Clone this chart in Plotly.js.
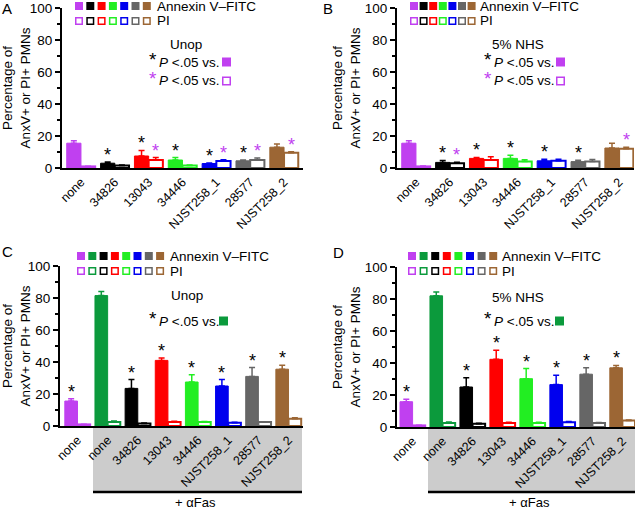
<!DOCTYPE html>
<html>
<head>
<meta charset="utf-8">
<script src="https://cdn.plot.ly/plotly-3.0.1.min.js"></script>
<style>
  body { margin: 0; background: #fff; }
  #chart { width: 640px; height: 511px; }
</style>
</head>
<body>
<div id="chart"></div>
<script>
// categories
const catsAB = ['none', '34826', '13043', '34446', 'NJST258_1', '28577', 'NJST258_2'];
const catsCD = ['none', 'none', '34826', '13043', '34446', 'NJST258_1', '28577', 'NJST258_2'];

// panel A: Unop
const anxA    = [15.5, 3.0, 7.5, 5.0, 2.8, 4.5, 13.0];
const anxErrA = [1.5, 0.7, 3.5, 1.5, 0.4, 0.5, 2.0];
const piA     = [1.0, 1.5, 5.0, 1.5, 4.3, 5.0, 9.5];
const piErrA  = [0.1, 0.3, 1.5, 0.3, 0.8, 1.2, 0.7];
const starAnxA = [0, 1, 1, 1, 1, 1, 0];
const starPiA  = [0, 0, 1, 0, 1, 1, 1];

// panel B: 5% NHS
const anxB    = [15.5, 3.5, 6.0, 6.0, 4.5, 4.0, 12.5];
const anxErrB = [1.5, 1.2, 0.6, 2.0, 1.0, 0.8, 3.0];
const piB     = [1.0, 3.0, 5.0, 4.0, 4.5, 4.0, 12.0];
const piErrB  = [0.2, 0.6, 2.0, 1.2, 1.0, 1.3, 1.0];
const starAnxB = [0, 1, 1, 1, 1, 1, 0];
const starPiB  = [0, 1, 0, 0, 0, 0, 1];

// panel C: Unop + aFas
const anxC    = [15.6, 81.5, 23.5, 41.0, 27.5, 25.0, 31.0, 35.5];
const anxErrC = [1.5, 2.5, 5.5, 1.5, 4.5, 4.0, 5.5, 2.5];
const piC     = [1.0, 2.5, 1.5, 2.5, 2.5, 2.0, 2.5, 4.5];
const piErrC  = [0.1, 0.6, 0.3, 0.5, 0.3, 0.4, 0.2, 0.6];
const starAnxC = [1, 0, 1, 1, 1, 1, 1, 1];

// panel D: 5% NHS + aFas
const anxD    = [15.8, 82.0, 25.0, 42.3, 30.2, 26.5, 33.0, 37.0];
const anxErrD = [1.5, 2.4, 5.8, 5.7, 6.3, 5.8, 4.0, 1.5];
const piD     = [1.0, 2.5, 2.0, 2.5, 2.5, 3.0, 2.5, 4.0];
const piErrD  = [0.1, 0.6, 0.4, 0.5, 0.4, 0.5, 0.3, 0.3];
const starAnxD = [1, 0, 1, 1, 1, 1, 1, 1];

const PURPLE = '#c040f0', DKGREEN = '#0b9a3c', GREEN = '#22ee22';
const colorsAB = [PURPLE, '#000000', '#ff0000', GREEN, '#0000ee', '#666666', '#9c6634'];
const colorsCD = [PURPLE, DKGREEN, '#000000', '#ff0000', GREEN, '#0000ee', '#666666', '#9c6634'];

const W = 640, H = 511;
const FONT = 'Liberation Sans, Arial, sans-serif';
function px(x) { return x / W; }
function py(y) { return 1 - y / H; }

const panels = [
  {letter: 'A', lx: 0, ly: 8, cats: catsAB, colors: colorsAB, anx: anxA, anxErr: anxErrA, pi: piA, piErr: piErrA,
   starAnx: starAnxA, starPi: starPiA, xd: [62, 303], yd: [8, 168], range: [-0.56, 6.56],
   cond: 'Unop', condX: 186, condY: 44, legX: 75, legY: 2, pitch: 11.3, textX: 155,
   rowX: 153, rowY: 62, sqX: 222, twoRows: true},
  {letter: 'B', lx: 321, ly: 8, cats: catsAB, colors: colorsAB, anx: anxB, anxErr: anxErrB, pi: piB, piErr: piErrB,
   starAnx: starAnxB, starPi: starPiB, xd: [397, 634], yd: [8, 168], range: [-0.56, 6.44],
   cond: '5% NHS', condX: 518, condY: 44, legX: 410, legY: 2, pitch: 9.6, textX: 478,
   rowX: 488, rowY: 62, sqX: 556, twoRows: true},
  {letter: 'C', lx: 0, ly: 251, cats: catsCD, colors: colorsCD, anx: anxC, anxErr: anxErrC, pi: piC, piErr: piErrC,
   starAnx: starAnxC, starPi: null, xd: [60, 303], yd: [266, 426], range: [-0.58, 7.48],
   cond: 'Unop', condX: 187, condY: 295, legX: 77, legY: 252, pitch: 11.3, textX: 168,
   rowX: 153, rowY: 321, sqX: 219, twoRows: false, box: [93, 302]},
  {letter: 'D', lx: 331, ly: 252, cats: catsCD, colors: colorsCD, anx: anxD, anxErr: anxErrD, pi: piD, piErr: piErrD,
   starAnx: starAnxD, starPi: null, xd: [397, 635], yd: [267, 427], range: [-0.52, 7.42],
   cond: '5% NHS', condX: 518, condY: 297, legX: 408, legY: 252, pitch: 11.6, textX: 500,
   rowX: 488, rowY: 321, sqX: 555, twoRows: false, box: [428, 635]}
];

const data = [];
const annotations = [];
const shapes = [];
const layout = {
  width: W, height: H,
  margin: {l: 0, r: 0, t: 0, b: 0},
  paper_bgcolor: '#ffffff', plot_bgcolor: 'rgba(0,0,0,0)',
  barmode: 'overlay',
  showlegend: false,
  font: {family: FONT, color: '#000', size: 13}
};

panels.forEach(function (p, k) {
  const n = k === 0 ? '' : String(k + 1);
  const xa = 'x' + n, ya = 'y' + n;

  p.cats.forEach(function (cat, i) {
    const c = p.colors[i];
    data.push({
      type: 'bar', x: [i], y: [p.anx[i]], width: 0.42, offset: -0.42,
      xaxis: xa, yaxis: ya, hoverinfo: 'skip',
      marker: {color: c, line: {color: c, width: 1}},
      error_y: {type: 'data', symmetric: false, array: [p.anxErr[i]], arrayminus: [0],
                color: c, thickness: 1.5, width: 3}
    });
    data.push({
      type: 'bar', x: [i], y: [p.pi[i]], width: 0.42, offset: 0,
      xaxis: xa, yaxis: ya, hoverinfo: 'skip',
      marker: {color: '#ffffff', line: {color: c, width: 2}},
      error_y: {type: 'data', symmetric: false, array: [p.piErr[i]], arrayminus: [0],
                color: c, thickness: 1.5, width: 3}
    });
    if (p.starAnx[i]) {
      annotations.push({xref: xa, yref: ya, x: i - 0.21, y: p.anx[i] + p.anxErr[i],
        text: '*', showarrow: false, yanchor: 'bottom', yshift: -5,
        font: {size: 18, color: '#000'}});
    }
    if (p.starPi && p.starPi[i]) {
      annotations.push({xref: xa, yref: ya, x: i + 0.21, y: p.pi[i] + p.piErr[i],
        text: '*', showarrow: false, yanchor: 'bottom', yshift: -5,
        font: {size: 18, color: PURPLE}});
    }
  });

  layout['xaxis' + n] = {
    domain: [px(p.xd[0]), px(p.xd[1])], anchor: ya,
    range: p.range, showline: true, linewidth: 2, linecolor: '#000',
    showgrid: false, zeroline: false, ticks: '',
    tickmode: 'array', tickvals: p.cats.map(function (c, i) { return i; }), ticktext: p.cats,
    tickangle: -45, tickfont: {size: 12.5}
  };
  layout['yaxis' + n] = {
    domain: [py(p.yd[1]), py(p.yd[0])], anchor: xa,
    range: [0, 100], showline: true, linewidth: 2, linecolor: '#000',
    showgrid: false, zeroline: false,
    ticks: 'outside', ticklen: 5, tickwidth: 1.5, tickcolor: '#000',
    tickvals: [0, 20, 40, 60, 80, 100], tickfont: {size: 13.5},
    minor: {tickvals: [10, 30, 50, 70, 90], ticks: 'outside', ticklen: 3, tickwidth: 1.5, tickcolor: '#000'},
    title: {text: 'Percentage of<br>AnxV+ or PI+ PMNs', font: {size: 13.5}, standoff: 1}
  };

  // panel letter
  annotations.push({xref: 'paper', yref: 'paper', x: px(p.lx), y: py(p.ly), xanchor: 'left', yanchor: 'middle',
    text: p.letter, showarrow: false, font: {size: 15}});

  // legend squares
  p.colors.forEach(function (c, i) {
    const x0 = p.legX + i * p.pitch;
    shapes.push({type: 'rect', xref: 'paper', yref: 'paper',
      x0: px(x0), x1: px(x0 + 8), y0: py(p.legY + 8), y1: py(p.legY),
      fillcolor: c, line: {width: 0}});
    shapes.push({type: 'rect', xref: 'paper', yref: 'paper',
      x0: px(x0 + 0.75), x1: px(x0 + 7.25), y0: py(p.legY + 22.25), y1: py(p.legY + 15.75),
      fillcolor: '#fff', line: {color: c, width: 1.5}});
  });
  annotations.push({xref: 'paper', yref: 'paper', x: px(p.textX), y: py(p.legY + 4.5), xanchor: 'left', yanchor: 'middle',
    text: 'Annexin V\u2013FITC', showarrow: false, font: {size: 13.5}});
  annotations.push({xref: 'paper', yref: 'paper', x: px(p.textX), y: py(p.legY + 19), xanchor: 'left', yanchor: 'middle',
    text: 'PI', showarrow: false, font: {size: 13.5}});

  // condition and significance key
  annotations.push({xref: 'paper', yref: 'paper', x: px(p.condX), y: py(p.condY), xanchor: 'center', yanchor: 'middle',
    text: p.cond, showarrow: false, font: {size: 13.5}});
  const rows = p.twoRows ? [0, 1] : [0];
  rows.forEach(function (r) {
    const yy = p.rowY + r * 19;
    const starCol = r === 0 ? '#000' : PURPLE;
    annotations.push({xref: 'paper', yref: 'paper', x: px(p.rowX), y: py(yy - 3), xanchor: 'center', yanchor: 'middle',
      text: '*', showarrow: false, font: {size: 19, color: starCol}});
    annotations.push({xref: 'paper', yref: 'paper', x: px(p.rowX + 4), y: py(yy), xanchor: 'left', yanchor: 'middle',
      text: '<i>P</i> <.05 vs.', showarrow: false, font: {size: 13.5}});
    const sqCol = p.twoRows ? PURPLE : DKGREEN;
    if (r === 0) {
      shapes.push({type: 'rect', xref: 'paper', yref: 'paper',
        x0: px(p.sqX), x1: px(p.sqX + 9), y0: py(yy + 4.5), y1: py(yy - 4.5),
        fillcolor: sqCol, line: {width: 0}});
    } else {
      shapes.push({type: 'rect', xref: 'paper', yref: 'paper',
        x0: px(p.sqX + 0.75), x1: px(p.sqX + 8.25), y0: py(yy + 3.75), y1: py(yy - 3.75),
        fillcolor: '#fff', line: {color: sqCol, width: 1.5}});
    }
  });

  // + aFas box
  if (p.box) {
    shapes.push({type: 'rect', xref: 'paper', yref: 'paper', layer: 'below',
      x0: px(p.box[0]), x1: px(p.box[1]), y0: py(492), y1: py(p.yd[1]),
      fillcolor: '#cccccc', line: {width: 0}});
    shapes.push({type: 'line', xref: 'paper', yref: 'paper',
      x0: px(p.box[0]), x1: px(p.box[1]), y0: py(492), y1: py(492),
      line: {color: '#000', width: 2.5}});
    annotations.push({xref: 'paper', yref: 'paper', x: px((p.box[0] + p.box[1]) / 2 - 2), y: py(502),
      xanchor: 'center', yanchor: 'middle', text: '+ \u03b1Fas', showarrow: false, font: {size: 13}});
  }
});

layout.annotations = annotations;
layout.shapes = shapes;

Plotly.newPlot('chart', data, layout, {staticPlot: true});
</script>
</body>
</html>
